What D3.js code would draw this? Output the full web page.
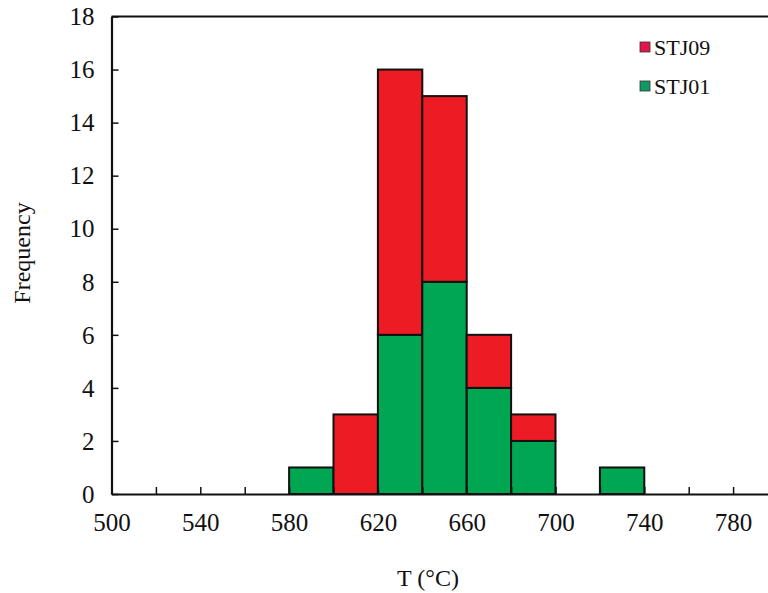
<!DOCTYPE html>
<html><head><meta charset="utf-8">
<script src="https://cdn.jsdelivr.net/npm/d3@7"></script>
<style>body{margin:0;background:#fff;} text{font-family:"Liberation Serif","Times New Roman",serif;fill:#111;}</style>
</head><body>
<svg id="c" width="768" height="593"></svg>
<script>
const binStarts = [580, 600, 620, 640, 660, 680, 700, 720];
const binWidth = 20;
const stj01 = [1, 0, 6, 8, 4, 2, 0, 1];
const stj09 = [0, 3, 10, 7, 2, 1, 0, 0];
const seriesNames = ["STJ09", "STJ01"];
const xTickLabels = [500, 540, 580, 620, 660, 700, 740, 780];
const yTickLabels = [0, 2, 4, 6, 8, 10, 12, 14, 16, 18];
const colors = {STJ01: "#00a651", STJ09: "#ed1c24"};
const legendColors = {STJ01: "#0f9a64", STJ09: "#e3144b"};

const svg = d3.select("#c");
const x = d3.scaleLinear().domain([500, 800]).range([111.5, 777.5]);
const y = d3.scaleLinear().domain([0, 18]).range([494, 16.5]);

// bars
const g = svg.append("g");
binStarts.forEach((b, i) => {
  const parts = [["STJ01", 0, stj01[i]], ["STJ09", stj01[i], stj01[i] + stj09[i]]];
  parts.forEach(([name, y0, y1]) => {
    if (y1 - y0 <= 0) return;
    g.append("rect")
      .attr("x", x(b)).attr("width", x(b + binWidth) - x(b))
      .attr("y", y(y1)).attr("height", y(y0) - y(y1))
      .attr("fill", colors[name]).attr("stroke", "#111").attr("stroke-width", 2);
  });
});

// axes
const xAxis = d3.axisBottom(x).tickValues(d3.range(500, 801, 20)).tickSizeInner(-7).tickSizeOuter(0)
  .tickFormat(d => xTickLabels.includes(d) ? d : "");
const xg = svg.append("g").attr("transform", "translate(0,494)").call(xAxis);
xg.select(".domain").attr("stroke", "#111").attr("stroke-width", 2.2);
xg.selectAll(".tick line").attr("stroke", "#111").attr("stroke-width", 1.5);
xg.selectAll(".tick text").attr("font-size", 25).attr("dy", 0).attr("y", 37);

const yAxis = d3.axisLeft(y).tickValues(yTickLabels).tickSizeInner(-7).tickSizeOuter(0);
const yg = svg.append("g").attr("transform", "translate(111.5,0)").call(yAxis);
yg.select(".domain").attr("stroke", "#111").attr("stroke-width", 2.2);
yg.selectAll(".tick line").attr("stroke", "#111").attr("stroke-width", 1.5);
yg.selectAll(".tick text").attr("font-size", 25).attr("x", -17).attr("dy", "0.33em");

// top border
svg.append("line").attr("x1", 111.5).attr("x2", 777.5).attr("y1", 16.5).attr("y2", 16.5)
  .attr("stroke", "#111").attr("stroke-width", 2.2);

// axis titles
svg.append("text").attr("x", 428).attr("y", 586).attr("text-anchor", "middle")
  .attr("font-size", 24).text("T (°C)");
svg.append("text").attr("transform", "translate(30,253) rotate(-90)").attr("text-anchor", "middle")
  .attr("font-size", 24).text("Frequency");

// legend
const lg = svg.append("g");
seriesNames.forEach((n, i) => {
  const yy = 47 + i * 39;
  lg.append("rect").attr("x", 640).attr("y", yy - 5).attr("width", 10).attr("height", 10)
    .attr("fill", legendColors[n]).attr("stroke", "#333").attr("stroke-width", 0.8);
  lg.append("text").attr("x", 654).attr("y", yy).attr("dy", "0.35em").attr("font-size", 22).text(n);
});
</script>
</body></html>
